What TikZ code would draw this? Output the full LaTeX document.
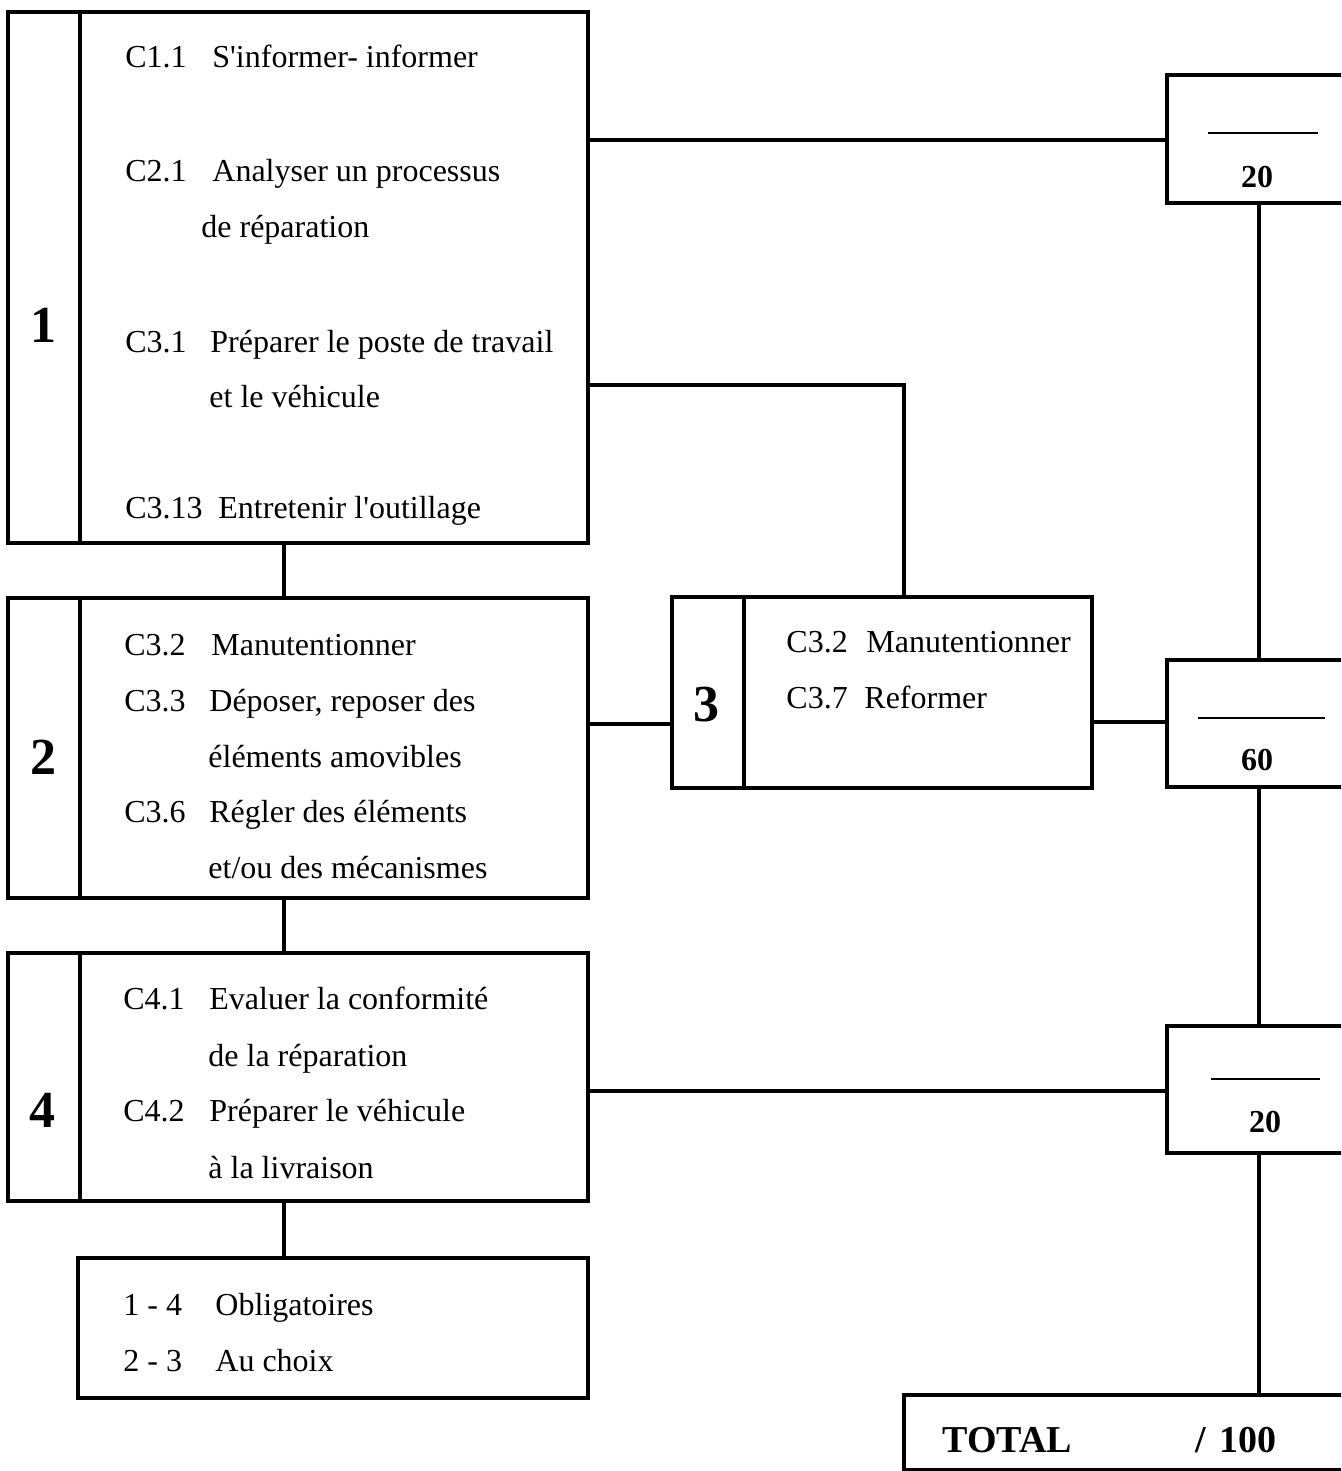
\documentclass[tikz,border=0pt]{standalone}
\usepackage{fontspec}
\setmainfont{Liberation Serif}
\begin{document}
\begin{tikzpicture}[x={(0.5pt,0)},y={(0,-0.5pt)},
  box/.style={draw,line width=2pt,rectangle,outer sep=0pt,inner sep=0pt,anchor=north west},
  conn/.style={line width=2pt},
  thin/.style={line width=0.8pt},
  txt/.style={anchor=base west,inner sep=0pt,font=\fontsize{16}{19}\selectfont},
  big/.style={anchor=center,inner sep=0pt,font=\fontsize{26}{30}\selectfont\bfseries},
  num/.style={anchor=center,inner sep=0pt,font=\fontsize{16}{19}\selectfont\bfseries},
  tot/.style={anchor=base west,inner sep=0pt,font=\fontsize{19}{23}\selectfont\bfseries}]
\useasboundingbox (0,0) rectangle (1341,1471);
\clip (0,0) rectangle (1341,1471);
\fill[white] (0,0) rectangle (1341,1471);
% boxes
\node[box,minimum width=290pt,minimum height=265.5pt] (b1) at (8,12) {};
\node[box,minimum width=290pt,minimum height=150pt] (b2) at (8,598) {};
\node[box,minimum width=290pt,minimum height=124pt] (b4) at (8,953) {};
\node[box,minimum width=255pt,minimum height=70pt] (b5) at (78,1258) {};
\node[box,minimum width=210pt,minimum height=95.5pt] (b3) at (672,597) {};
\node[box,minimum width=101.5pt,minimum height=64pt] (rA) at (1167,75) {};
\node[box,minimum width=101.5pt,minimum height=63.5pt] (rB) at (1167,660) {};
\node[box,minimum width=101.5pt,minimum height=63.5pt] (rC) at (1167,1026) {};
\node[box,minimum width=250pt,minimum height=37.5pt] (tt) at (904,1395) {};
% dividers
\foreach \b in {b1,b2,b4,b3}
  \draw[conn] ([xshift=36pt]\b.north west) -- ([xshift=36pt]\b.south west);
% connector coordinates
\coordinate (xl) at (284,0);
\coordinate (xm) at (904,0);
\coordinate (xr) at (1259,0);
\coordinate (yA) at (0,140);
\coordinate (y13) at (0,385);
\coordinate (y23) at (0,724);
\coordinate (y3B) at (0,722);
\coordinate (y4C) at (0,1091);
% connectors
\draw[conn] (b1.south -| xl) -- (b2.north -| xl);
\draw[conn] (b2.south -| xl) -- (b4.north -| xl);
\draw[conn] (b4.south -| xl) -- (b5.north -| xl);
\draw[conn] (b1.east |- yA) -- (rA.west |- yA);
\draw[conn] (b1.east |- y13) -| (b3.north -| xm);
\draw[conn] (b2.east |- y23) -- (b3.west |- y23);
\draw[conn] (b3.east |- y3B) -- (rB.west |- y3B);
\draw[conn] (b4.east |- y4C) -- (rC.west |- y4C);
\draw[conn] (rA.south -| xr) -- (rB.north -| xr);
\draw[conn] (rB.south -| xr) -- (rC.north -| xr);
\draw[conn] (rC.south -| xr) -- (tt.north -| xr);
% big numbers
\node[big] (n1) at (44,325) {1};
\node[big] (n2) at (44,757) {2};
\node[big] (n4) at (42,1110) {4};
\node[big] (n3) at (706,705) {3};
% box 1 text
\node[txt] (a1) at (125,68) {C1.1};
\node[txt] (a2) at (212,68) {S\textquotesingle informer- informer};
\node[txt] (a3) at (125,182) {C2.1};
\node[txt] (a4) at (212,182) {Analyser un processus};
\node[txt] (a5) at (201,238) {de réparation};
\node[txt] (a6) at (125,352) {C3.1};
\node[txt] (a7) at (210,352) {Préparer le poste de travail};
\node[txt] (a8) at (209,407) {et le véhicule};
\node[txt] (a9) at (125,518) {C3.13};
\node[txt] (a10) at (218,518) {Entretenir l\textquotesingle outillage};
% box 2 text
\node[txt] (c1) at (124,655) {C3.2};
\node[txt] (c2) at (211,655) {Manutentionner};
\node[txt] (c3) at (124,711) {C3.3};
\node[txt] (c4) at (209,711) {Déposer, reposer des};
\node[txt] (c5) at (208,767) {éléments amovibles};
\node[txt] (c6) at (124,822) {C3.6};
\node[txt] (c7) at (209,822) {Régler des éléments};
\node[txt] (c8) at (208,878) {et/ou des mécanismes};
% box 3 text
\node[txt] (d1) at (786,652) {C3.2};
\node[txt] (d2) at (866,652) {Manutentionner};
\node[txt] (d3) at (786,708) {C3.7};
\node[txt] (d4) at (864,708) {Reformer};
% box 4 text
\node[txt] (e1) at (123,1009) {C4.1};
\node[txt] (e2) at (209,1009) {Evaluer la conformité};
\node[txt] (e3) at (208,1066) {de la réparation};
\node[txt] (e4) at (123,1121) {C4.2};
\node[txt] (e5) at (209,1121) {Préparer le véhicule};
\node[txt] (e6) at (208,1178) {à la livraison};
% box 5 text
\node[txt] (f1) at (123,1315) {1 - 4};
\node[txt] (f2) at (215,1315) {Obligatoires};
\node[txt] (f3) at (123,1371) {2 - 3};
\node[txt] (f4) at (215,1371) {Au choix};
% right boxes
\draw[thin] (1208,133) -- (1318,133);
\node[num] (s1) at (1257,177) {20};
\draw[thin] (1198,718) -- (1325,718);
\node[num] (s2) at (1257,760) {60};
\draw[thin] (1211,1079) -- (1320,1079);
\node[num] (s3) at (1265,1122) {20};
% total
\node[tot] (g1) at (942,1452) {TOTAL};
\node[tot] (g2) at (1195,1452) {/\hspace{2pt} 100};
\end{tikzpicture}
\end{document}
